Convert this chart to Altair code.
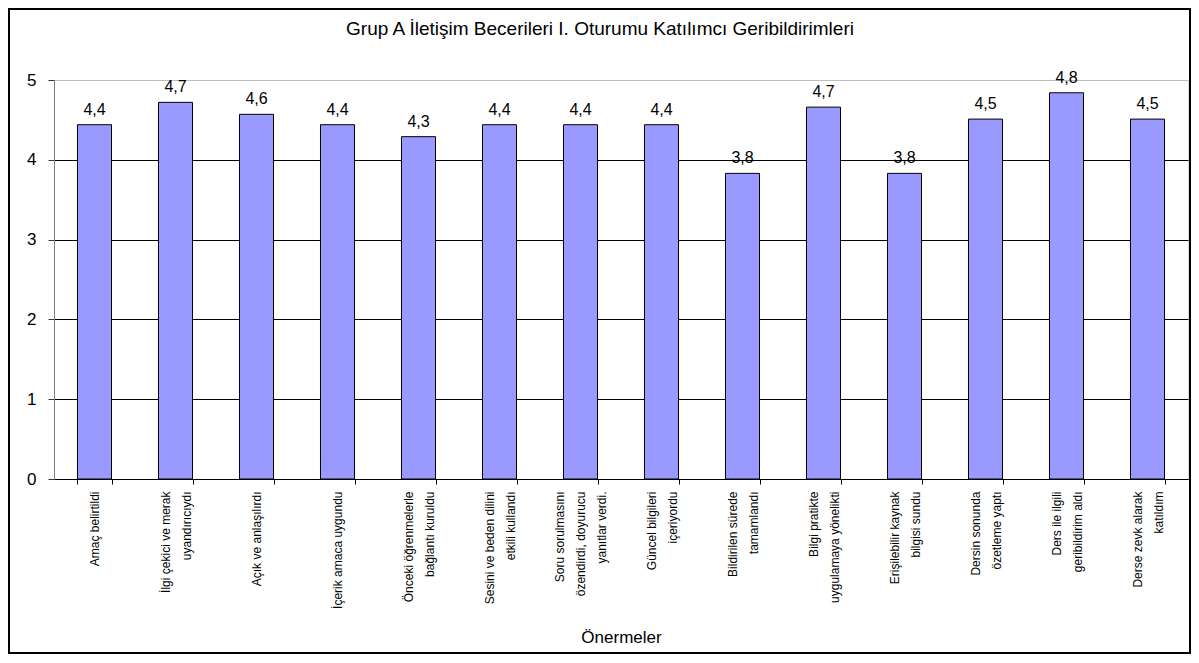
import altair as alt
import pandas as pd

categories = [
    "Amaç belirtildi",
    "İlgi çekici ve merak|uyandırıcıydı",
    "Açık ve anlaşılırdı",
    "İçerik amaca uygundu",
    "Önceki öğrenmelerle|bağlantı kuruldu",
    "Sesini ve beden dilini|etkili kullandı",
    "Soru sorulmasını|özendirdi, doyurucu|yanıtlar verdi.",
    "Güncel bilgileri|içeriyordu",
    "Bildirilen sürede|tamamlandı",
    "Bilgi pratikte|uygulamaya yönelikti",
    "Erişilebilir kaynak|bilgisi sundu",
    "Dersin sonunda|özetleme yaptı",
    "Ders ile ilgili|geribildirim aldı",
    "Derse zevk alarak|katıldım",
]
values = [4.44, 4.72, 4.57, 4.44, 4.29, 4.44, 4.44, 4.44, 3.83, 4.66, 3.83, 4.51, 4.84, 4.51]
value_labels = ["4,4", "4,7", "4,6", "4,4", "4,3", "4,4", "4,4", "4,4", "3,8", "4,7", "3,8", "4,5", "4,8", "4,5"]
y_ticks = [0, 1, 2, 3, 4, 5]

title_text = "Grup A İletişim Becerileri I. Oturumu Katılımcı Geribildirimleri"
x_title = "Önermeler"

df = pd.DataFrame({"kategori": categories, "deger": values, "etiket": value_labels})

FONT = "Liberation Sans"
W, H = 1134, 399
LH = 21

x_enc = alt.X(
    "kategori:N",
    sort=None,
    scale=alt.Scale(paddingInner=0.58, paddingOuter=0.29),
    axis=alt.Axis(
        title=x_title,
        titleFont=FONT,
        titleFontSize=17,
        titleFontWeight="normal",
        titleColor="#000",
        titleY=163,
        titleBaseline="alphabetic",
        labelAngle=-90,
        labelAlign="right",
        labelBaseline="middle",
        labelExpr="split(datum.label, '|')",
        labelFont=FONT,
        labelFontSize=12,
        labelLineHeight=LH,
        labelColor="#000",
        labelPadding=7,
        labelLimit=400,
        labelOverlap=False,
        labelBound=False,
        labelOffset={
            "condition": [
                {"test": "length(split(datum.value, '|')) == 3", "value": -LH},
                {"test": "length(split(datum.value, '|')) == 2", "value": -LH / 2},
            ],
            "value": 0,
        },
        tickBand="extent",
        tickSize=5,
        tickColor="#000",
        domainColor="#000",
        grid=False,
    ),
)

y_enc = alt.Y(
    "deger:Q",
    scale=alt.Scale(domain=[0, 5], nice=False),
    axis=alt.Axis(
        title=None,
        values=y_ticks,
        format="d",
        labelFont=FONT,
        labelFontSize=17,
        labelColor="#000",
        labelPadding=12,
        tickSize=6,
        tickColor="#333",
        domainColor="#808080",
        grid=True,
        gridColor={"condition": {"test": "datum.value == 5", "value": "#bdbdbd"}, "value": "#000"},
        gridWidth=1,
    ),
)

bars = alt.Chart(df).mark_bar(
    color="#9999FF", stroke="#000", strokeWidth=1
).encode(x=x_enc, y=y_enc)

texts = alt.Chart(df).mark_text(
    font=FONT, fontSize=16, color="#000", baseline="alphabetic", dy=-10
).encode(x=alt.X("kategori:N", sort=None), y="deger:Q", text="etiket:N")

border = alt.Chart(pd.DataFrame({"k": [0]})).mark_rect(
    filled=False, stroke="#000", strokeWidth=2
).encode(
    x=alt.value(-45), x2=alt.value(W + 2), y=alt.value(-71), y2=alt.value(H + 174)
)

chart = alt.layer(bars, texts, border).properties(
    width=W,
    height=H,
    title=alt.TitleParams(
        title_text,
        font=FONT,
        fontSize=19,
        fontWeight="normal",
        color="#000",
        anchor="middle",
        frame="group",
        baseline="alphabetic",
        offset=-46,
        dx=-21,
    ),
    autosize=alt.AutoSizeParams(type="none"),
    padding={"left": 46, "top": 72, "right": 3, "bottom": 176},
).configure_view(stroke="transparent").configure(background="#ffffff")

chart.save("out.html", embed_options={"renderer": "svg", "actions": False})
